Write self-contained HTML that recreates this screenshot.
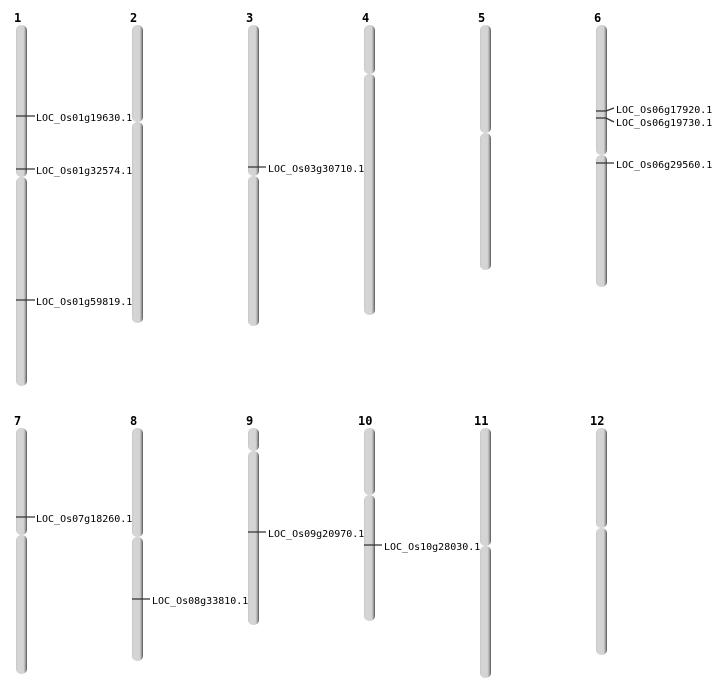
<!DOCTYPE html>
<html><head><meta charset="utf-8"><style>
html,body{margin:0;padding:0;background:#fff;}
svg{display:block}
.n{font-family:"DejaVu Sans Mono","Liberation Mono",monospace;font-weight:bold;font-size:12px;fill:#000}
.l{font-family:"DejaVu Sans Mono","Liberation Mono",monospace;font-size:10px;fill:#000}
</style></head><body>
<svg width="712" height="700" viewBox="0 0 712 700" xmlns="http://www.w3.org/2000/svg">
<defs>
<linearGradient id="g" x1="0" x2="1" y1="0" y2="0">
<stop offset="0" stop-color="#c8c8c8"/>
<stop offset="0.2" stop-color="#d6d6d6"/>
<stop offset="0.7" stop-color="#d2d2d2"/>
<stop offset="0.82" stop-color="#b0b0b0"/>
<stop offset="1" stop-color="#555"/>
</linearGradient>
</defs>
<g fill="url(#g)">
<rect x="16" y="25" width="11" height="152" rx="5"/><rect x="16" y="177" width="11" height="209" rx="5"/>
<rect x="132" y="25" width="11" height="97" rx="5"/><rect x="132" y="122" width="11" height="201" rx="5"/>
<rect x="248" y="25" width="11" height="151" rx="5"/><rect x="248" y="176" width="11" height="150" rx="5"/>
<rect x="364" y="25" width="11" height="49" rx="5"/><rect x="364" y="74" width="11" height="241" rx="5"/>
<rect x="480" y="25" width="11" height="108" rx="5"/><rect x="480" y="133" width="11" height="137" rx="5"/>
<rect x="596" y="25" width="11" height="130" rx="5"/><rect x="596" y="155" width="11" height="132" rx="5"/>
<rect x="16" y="428" width="11" height="107" rx="5"/><rect x="16" y="535" width="11" height="139" rx="5"/>
<rect x="132" y="428" width="11" height="109" rx="5"/><rect x="132" y="537" width="11" height="124" rx="5"/>
<rect x="248" y="428" width="11" height="23" rx="5"/><rect x="248" y="451" width="11" height="174" rx="5"/>
<rect x="364" y="428" width="11" height="67" rx="5"/><rect x="364" y="495" width="11" height="126" rx="5"/>
<rect x="480" y="428" width="11" height="118" rx="5"/><rect x="480" y="546" width="11" height="132" rx="5"/>
<rect x="596" y="428" width="11" height="100" rx="5"/><rect x="596" y="528" width="11" height="127" rx="5"/>
</g>
<g class="n">
<text x="14" y="22" class="n">1</text><text x="130" y="22" class="n">2</text><text x="246" y="22" class="n">3</text>
<text x="362" y="22" class="n">4</text><text x="478" y="22" class="n">5</text><text x="594" y="22" class="n">6</text>
<text x="14" y="425" class="n">7</text><text x="130" y="425" class="n">8</text><text x="246" y="425" class="n">9</text>
<text x="358" y="425" class="n">10</text><text x="474" y="425" class="n">11</text><text x="590" y="425" class="n">12</text>
</g>
<g stroke="#333" stroke-width="1.3" fill="none">
<path d="M16 116H35M16 169H35M16 300H35M248 167H266M16 517H35M132 599H150M248 532H266M364 545H382M596 163H614"/>
<path d="M596 111H606L614 108M596 118H606L614 122"/>
</g>
<g class="l">
<text x="36" y="121" class="l">LOC_Os01g19630.1</text>
<text x="36" y="174" class="l">LOC_Os01g32574.1</text>
<text x="36" y="305" class="l">LOC_Os01g59819.1</text>
<text x="268" y="172" class="l">LOC_Os03g30710.1</text>
<text x="616" y="113" class="l">LOC_Os06g17920.1</text>
<text x="616" y="126" class="l">LOC_Os06g19730.1</text>
<text x="616" y="168" class="l">LOC_Os06g29560.1</text>
<text x="36" y="522" class="l">LOC_Os07g18260.1</text>
<text x="152" y="604" class="l">LOC_Os08g33810.1</text>
<text x="268" y="537" class="l">LOC_Os09g20970.1</text>
<text x="384" y="550" class="l">LOC_Os10g28030.1</text>
</g>
</svg>
</body></html>
